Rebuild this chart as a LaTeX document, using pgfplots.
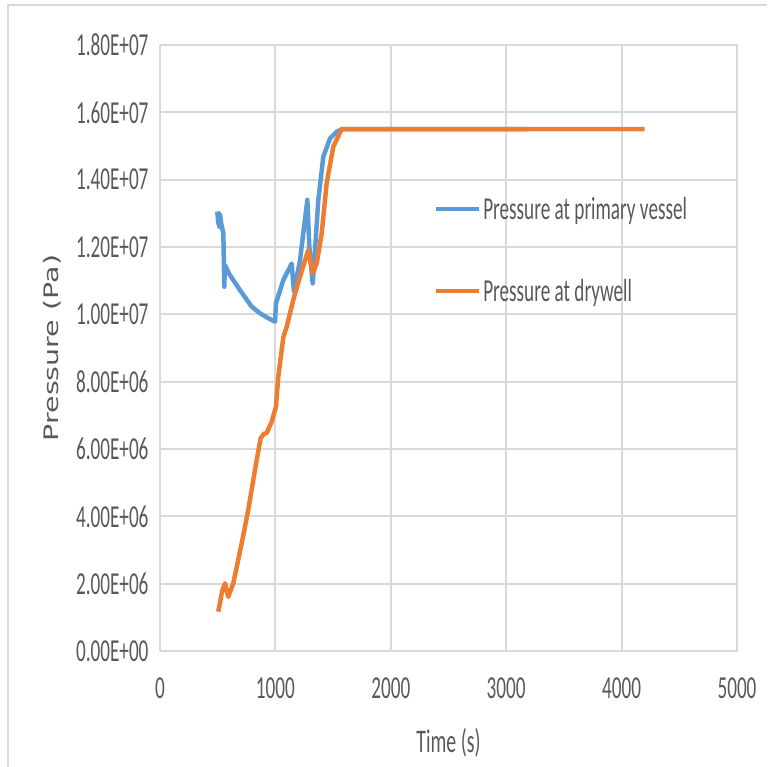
\documentclass[border=0pt]{standalone}
\usepackage{pgfplots}
\pgfplotsset{compat=1.18}
\usepackage{fontspec}
\newfontfamily\labelfont{DejaVu Sans}[FakeStretch=1]
\setmainfont{Carlito}[FakeStretch=0.6]
\definecolor{bl}{HTML}{5B9BD5}
\definecolor{orr}{HTML}{ED7D31}
\definecolor{txt}{HTML}{595959}
\definecolor{grd}{HTML}{D9D9D9}
\begin{document}
\begin{tikzpicture}[x=1pt,y=1pt]
\path[use as bounding box] (0,0) rectangle (767,767);
\draw[grd, line width=2pt] (8,0) -- (8,762) -- (767,762);
\begin{axis}[
  at={(160pt,116pt)}, anchor=south west,
  scale only axis, width=577pt, height=606pt,
  xmin=0, xmax=5000, ymin=0, ymax=1.8e7,
  xtick={0,1000,2000,3000,4000,5000},
  xticklabels={0,1000,2000,3000,4000,5000},
  ytick={0,2e6,4e6,6e6,8e6,1e7,1.2e7,1.4e7,1.6e7,1.8e7},
  yticklabels={0.00E+00,2.00E+06,4.00E+06,6.00E+06,8.00E+06,1.00E+07,1.20E+07,1.40E+07,1.60E+07,1.80E+07},
  scaled ticks=false,
  /pgf/number format/assume math mode=true,
  axis line style={draw=none},
  major tick length=0pt,
  grid=major,
  major grid style={grd, line width=2pt},
  tick label style={font=\fontsize{32}{38}\selectfont, text=txt},
  yticklabel style={xshift=-8pt},
  xticklabel style={yshift=-23pt},
  xlabel={Time (s)},
  xlabel style={at={(axis description cs:0.5,-0.152)}, anchor=center, font=\fontsize{33}{40}\selectfont, text=txt},
  legend style={at={(axis description cs:0.475,0.752)}, anchor=north west, draw=none, fill=none,
    font=\fontsize{32}{38}\selectfont, text=txt, row sep=54pt, inner sep=0pt},
  legend cell align=left,
  legend image code/.code={\draw[#1, line width=4pt] (0pt,0pt) -- (43pt,0pt);},
]
\addplot[bl, line width=4.5pt, line join=round, no markers] coordinates {
(497,13.05e6)(505,12.7e6)(510,13.0e6)(515,12.6e6)(520,12.95e6)(530,12.7e6)(549,12.4e6)(557,10.82e6)(563,11.46e6)(600,11.2e6)(693,10.72e6)(794,10.23e6)(867,10.03e6)(930,9.9e6)(997,9.78e6)(1005,10.33e6)(1069,11.02e6)(1141,11.51e6)(1161,10.67e6)(1213,11.6e6)(1277,13.4e6)(1294,12.0e6)(1323,10.92e6)(1343,11.9e6)(1372,13.4e6)(1415,14.68e6)(1473,15.22e6)(1530,15.42e6)(1574,15.5e6)(3180,15.5e6)
};
\addlegendentry{Pressure at primary vessel}
\addplot[orr, line width=4.5pt, line join=round, no markers] coordinates {
(505,1.17e6)(540,1.8e6)(563,2.01e6)(592,1.61e6)(635,2.01e6)(708,3.2e6)(765,4.19e6)(823,5.38e6)(872,6.32e6)(900,6.45e6)(924,6.47e6)(968,6.81e6)(1005,7.26e6)(1025,8.15e6)(1069,9.33e6)(1098,9.63e6)(1155,10.43e6)(1213,11.12e6)(1285,11.91e6)(1323,11.22e6)(1358,11.51e6)(1401,12.4e6)(1444,13.89e6)(1502,14.98e6)(1574,15.5e6)(4200,15.5e6)
};
\addlegendentry{Pressure at drywell}
\end{axis}
\node[rotate=90, text=txt, inner sep=0pt] at (52,419) {\scalebox{1}[0.7]{\labelfont\fontsize{28.5}{34}\selectfont Pressure (Pa)}};
\end{tikzpicture}
\end{document}
